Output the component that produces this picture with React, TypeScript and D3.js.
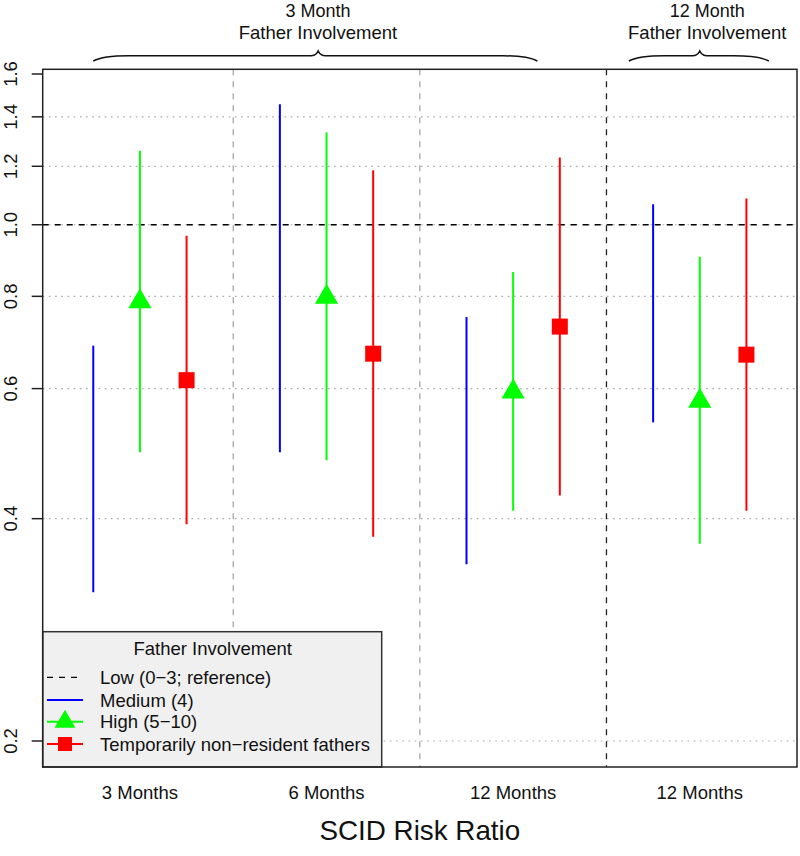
import React from "react";
import * as d3 from "d3";

const groups = ["3 Months", "6 Months", "12 Months", "12 Months"];
const mediumLo = [0.318, 0.492, 0.347, 0.54];
const mediumHi = [0.686, 1.456, 0.75, 1.066];
const highEst = [0.787, 0.798, 0.594, 0.577];
const highLo = [0.492, 0.48, 0.41, 0.37];
const highHi = [1.26, 1.333, 0.863, 0.905];
const tempEst = [0.616, 0.669, 0.728, 0.667];
const tempLo = [0.393, 0.378, 0.43, 0.41];
const tempHi = [0.966, 1.185, 1.233, 1.085];
const yTicks = [0.2, 0.4, 0.6, 0.8, 1.0, 1.2, 1.4, 1.6];
const gridValues = [0.2, 0.4, 0.6, 0.8, 1.0, 1.2, 1.4];
const legendTitle = "Father Involvement";
const legendLabels = [
  "Low (0\u22123; reference)",
  "Medium (4)",
  "High (5\u221210)",
  "Temporarily non\u2212resident fathers",
];
const braceTop = ["3 Month", "12 Month"];
const braceBottom = ["Father Involvement", "Father Involvement"];
const braceStart = [0.75, 3.62];
const braceEnd = [3.13, 4.37];
const braceMid = [1.955, 4.0];
const braceText = [1.954, 4.04];
const xTitle = "SCID Risk Ratio";

const W = 800;
const H = 856;
const L = 42.7;
const R = 797;
const T = 69.3;
const B = 767;
const FONT = "'Liberation Sans', Arial, Helvetica, sans-serif";

const x = d3.scaleLinear().domain([0.479, 4.521]).range([L, R]);
const y = d3.scaleLog().domain([0.2, 1.6]).range([741, 74]);
const off = 0.25;

function triPath(cx: number, cy: number, r: number) {
  const p = d3.path();
  p.moveTo(cx, cy - 1.5551 * r);
  p.lineTo(cx + 1.3468 * r, cy + 0.7776 * r);
  p.lineTo(cx - 1.3468 * r, cy + 0.7776 * r);
  p.closePath();
  return p.toString();
}

function bracePath(x1: number, x2: number, xm: number) {
  const yEnd = 61, yFlat = 55.8, yTip = 51;
  const p = d3.path();
  p.moveTo(x1, yEnd);
  p.bezierCurveTo(x1 + 8, yFlat + 1, x1 + 20, yFlat, x1 + 35, yFlat);
  p.lineTo(xm - 12, yFlat);
  p.bezierCurveTo(xm - 5, yFlat, xm - 2, yFlat, xm, yTip);
  p.bezierCurveTo(xm + 2, yFlat, xm + 5, yFlat, xm + 12, yFlat);
  p.lineTo(x2 - 35, yFlat);
  p.bezierCurveTo(x2 - 20, yFlat, x2 - 8, yFlat + 1, x2, yEnd);
  return p.toString();
}

const MR = 8.6;
const SQ = 8;

export default function App() {
  const idx = groups.map((_, i) => i);
  return (
    <svg
      width={W}
      height={H}
      style={{ position: "absolute", left: 0, top: 0, display: "block", background: "#fff" }}
      fontFamily={FONT}
    >
      <rect x={0} y={0} width={W} height={H} fill="#fff" />
      {/* grid */}
      {gridValues.map((v) => (
        <line key={"g" + v} x1={L} x2={R} y1={y(v)} y2={y(v)} stroke="#a8a8a8" strokeWidth={1.2} strokeDasharray="1.6,4.6" />
      ))}
      {/* reference line */}
      <line x1={L} x2={R} y1={y(1)} y2={y(1)} stroke="#000" strokeWidth={1.3} strokeDasharray="6,6" />
      {/* separators */}
      {[1.5, 2.5].map((s) => (
        <line key={"s" + s} x1={x(s)} x2={x(s)} y1={T} y2={B} stroke="#a0a0a0" strokeWidth={1.2} strokeDasharray="6,6" />
      ))}
      <line x1={x(3.5)} x2={x(3.5)} y1={T} y2={B} stroke="#222" strokeWidth={1.3} strokeDasharray="6,6" />

      {/* medium */}
      {idx.map((i) => (
        <line key={"m" + i} x1={x(i + 1 - off)} x2={x(i + 1 - off)} y1={y(mediumLo[i])} y2={y(mediumHi[i])} stroke="#0000ff" strokeWidth={2} />
      ))}
      {/* high */}
      {idx.map((i) => (
        <g key={"h" + i}>
          <line x1={x(i + 1)} x2={x(i + 1)} y1={y(highLo[i])} y2={y(highHi[i])} stroke="#00ff00" strokeWidth={2} />
          <path d={triPath(x(i + 1), y(highEst[i]), MR)} fill="#00ff00" />
        </g>
      ))}
      {/* temp */}
      {idx.map((i) => (
        <g key={"t" + i}>
          <line x1={x(i + 1 + off)} x2={x(i + 1 + off)} y1={y(tempLo[i])} y2={y(tempHi[i])} stroke="#ff0000" strokeWidth={2} />
          <rect x={x(i + 1 + off) - SQ} y={y(tempEst[i]) - SQ} width={2 * SQ} height={2 * SQ} fill="#ff0000" />
        </g>
      ))}

      {/* legend */}
      <g>
        <rect x={L} y={631.7} width={381.7 - L} height={B - 631.7} fill="#f0f0f0" stroke="#333" strokeWidth={1.5} />
        <text x={212.7} y={654.5} textAnchor="middle" fontSize={18.5} fill="#111">{legendTitle}</text>
        {legendLabels.map((lab, i) => {
          const ly = [677.3, 700, 721.7, 744][i];
          return (
            <g key={"l" + i}>
              {i === 0 && <line x1={47} x2={83} y1={ly} y2={ly} stroke="#000" strokeWidth={1.3} strokeDasharray="6,6" />}
              {i === 1 && <line x1={47} x2={83} y1={ly} y2={ly} stroke="#0000ff" strokeWidth={2} />}
              {i === 2 && (
                <g>
                  <line x1={47} x2={83} y1={ly} y2={ly} stroke="#00ff00" strokeWidth={2} />
                  <path d={triPath(65, ly, MR * 0.9)} fill="#00ff00" />
                </g>
              )}
              {i === 3 && (
                <g>
                  <line x1={47} x2={83} y1={ly} y2={ly} stroke="#ff0000" strokeWidth={2} />
                  <rect x={65 - 7} y={ly - 7} width={14} height={14} fill="#ff0000" />
                </g>
              )}
              <text x={100} y={ly + 6.5} fontSize={18.5} fill="#111">{lab}</text>
            </g>
          );
        })}
      </g>

      {/* plot box */}
      <rect x={L} y={T} width={R - L} height={B - T} fill="none" stroke="#222" strokeWidth={1.5} />

      {/* y axis */}
      {yTicks.map((v) => (
        <g key={"yt" + v}>
          <line x1={L - 11} x2={L} y1={y(v)} y2={y(v)} stroke="#222" strokeWidth={1.5} />
          <text transform={`translate(16.5,${y(v)}) rotate(-90)`} textAnchor="middle" fontSize={18.5} fill="#111">
            {v.toFixed(1)}
          </text>
        </g>
      ))}

      {/* x labels */}
      {groups.map((g, i) => (
        <text key={"xl" + i} x={x(i + 1)} y={799} textAnchor="middle" fontSize={18.5} fill="#111">{g}</text>
      ))}
      <text x={(L + R) / 2} y={840} textAnchor="middle" fontSize={27.8} fill="#111">{xTitle}</text>

      {/* braces */}
      {braceTop.map((t, i) => (
        <g key={"b" + i}>
          <path d={bracePath(x(braceStart[i]), x(braceEnd[i]), x(braceMid[i]))} fill="none" stroke="#111" strokeWidth={1.5} />
          <text x={x(braceText[i])} y={17} textAnchor="middle" fontSize={18} fill="#111">{t}</text>
          <text x={x(braceText[i])} y={38.5} textAnchor="middle" fontSize={18.5} fill="#111">{braceBottom[i]}</text>
        </g>
      ))}
    </svg>
  );
}
